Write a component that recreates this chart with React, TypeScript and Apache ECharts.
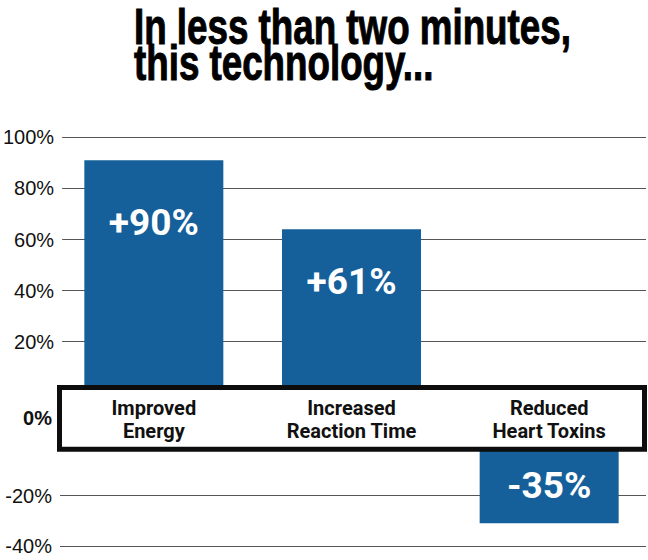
import React, { useEffect, useRef } from 'react';
import * as echarts from 'echarts';

const titleLines = ['In less than two minutes,', 'this technology...'];
const categories = ['Improved\nEnergy', 'Increased\nReaction Time', 'Reduced\nHeart Toxins'];
const values = [91, 64, -31];
const valueLabels = ['+90%', '+61%', '-35%'];
const upperTicks = [0, 20, 40, 60, 80, 100];
const lowerTicks = [-40, -20, 0];
const zeroLabel = '0%';

const labelInset = [44, 34, 19];

const BLUE = '#15609a';
const cond = "Roboto, 'Liberation Sans', sans-serif";

export default function App() {
  const ref = useRef<HTMLDivElement>(null);
  useEffect(() => {
    if (!ref.current) return;
    const chart = echarts.init(ref.current, undefined, { renderer: 'svg' });
    const upMin = upperTicks[0];
    const upMax = upperTicks[upperTicks.length - 1];
    const upInt = upperTicks[1] - upperTicks[0];
    const loMin = lowerTicks[0];
    const loMax = lowerTicks[lowerTicks.length - 1];
    const loInt = lowerTicks[1] - lowerTicks[0];
    const valAxisLabel = {
      formatter: '{value}%',
      fontFamily: "'Liberation Sans', Arial, sans-serif",
      fontSize: 20,
      color: '#111',
      margin: 8,
    };
    const split = { show: true, lineStyle: { color: '#555', width: 1 } };
    const labelBase = {
      show: true,
      color: '#fff',
      fontSize: 37,
      fontWeight: 'bold',
      fontFamily: 'Roboto, sans-serif',
      formatter: (p: any) => valueLabels[p.dataIndex],
    };
    const posData = values.map((v, i) =>
      v > 0 ? { value: v, label: { ...labelBase, position: 'insideTop', distance: labelInset[i] } } : '-'
    );
    const negData = values.map((v, i) =>
      v < 0 ? { value: v, label: { ...labelBase, position: 'insideBottom', distance: labelInset[i] } } : '-'
    );
    const titleStyle = {
      align: 'left', verticalAlign: 'middle',
      fontFamily: "'Liberation Sans', Arial, sans-serif", fontWeight: 'bold', fontSize: 49,
      fill: '#000', stroke: '#000', lineWidth: 1,
    };
    const option: any = {
      animation: false,
      grid: [
        { left: 60, width: 586, top: 137.3, height: 255.5 },
        { left: 55, width: 600, top: 137.3, height: 255.5 },
        { left: 60, width: 586, top: 445, height: 101 },
        { left: 55, width: 600, top: 445, height: 101 },
      ],
      xAxis: [
        { gridIndex: 0, type: 'category', data: categories, show: false },
        {
          gridIndex: 1,
          type: 'category',
          data: categories,
          z: 10,
          axisLine: { show: false },
          axisTick: { show: false },
          axisLabel: {
            interval: 0,
            margin: 3,
            fontFamily: cond,
            fontWeight: 'bold',
            fontSize: 20,
            lineHeight: 23.5,
            color: '#111',
          },
        },
        { gridIndex: 2, type: 'category', data: categories, show: false },
        { gridIndex: 3, type: 'category', data: categories, show: false },
      ],
      yAxis: [
        {
          gridIndex: 0, type: 'value', min: upMin, max: upMax, interval: upInt,
          axisLine: { show: false }, axisTick: { show: false },
          axisLabel: { ...valAxisLabel, showMinLabel: false },
          splitLine: split,
        },
        { gridIndex: 1, type: 'value', min: upMin, max: upMax, interval: upInt, show: false },
        {
          gridIndex: 2, type: 'value', min: loMin, max: loMax, interval: loInt,
          axisLine: { show: false }, axisTick: { show: false },
          axisLabel: { ...valAxisLabel, showMaxLabel: false },
          splitLine: split,
        },
        { gridIndex: 3, type: 'value', min: loMin, max: loMax, interval: loInt, show: false },
      ],
      series: [
        {
          type: 'bar', xAxisIndex: 1, yAxisIndex: 1, barWidth: 139,
          itemStyle: { color: BLUE }, data: posData,
        },
        {
          type: 'bar', xAxisIndex: 3, yAxisIndex: 3, barWidth: 139,
          itemStyle: { color: BLUE }, data: negData,
        },
      ],
      graphic: [
        {
          type: 'rect', z: 5,
          shape: { x: 59.5, y: 387.5, width: 585, height: 61.7 },
          style: { fill: '#fff', stroke: '#0d0d0d', lineWidth: 5 },
        },
        {
          type: 'text', z: 10, x: 52, y: 418,
          style: {
            text: zeroLabel, align: 'right', verticalAlign: 'middle',
            fontFamily: "'Liberation Sans', Arial, sans-serif", fontWeight: 'bold', fontSize: 20, fill: '#111',
          },
        },
        {
          type: 'text', z: 10, x: 134, y: 27, scaleX: 0.75,
          style: { ...titleStyle, text: titleLines[0] },
        },
        {
          type: 'text', z: 10, x: 134, y: 63, scaleX: 0.75,
          style: { ...titleStyle, text: titleLines[1] },
        },
      ],
    };
    chart.setOption(option);
    return () => chart.dispose();
  }, []);
  return <div ref={ref} style={{ position: 'absolute', left: 0, top: 0, width: 648, height: 560 }} />;
}
